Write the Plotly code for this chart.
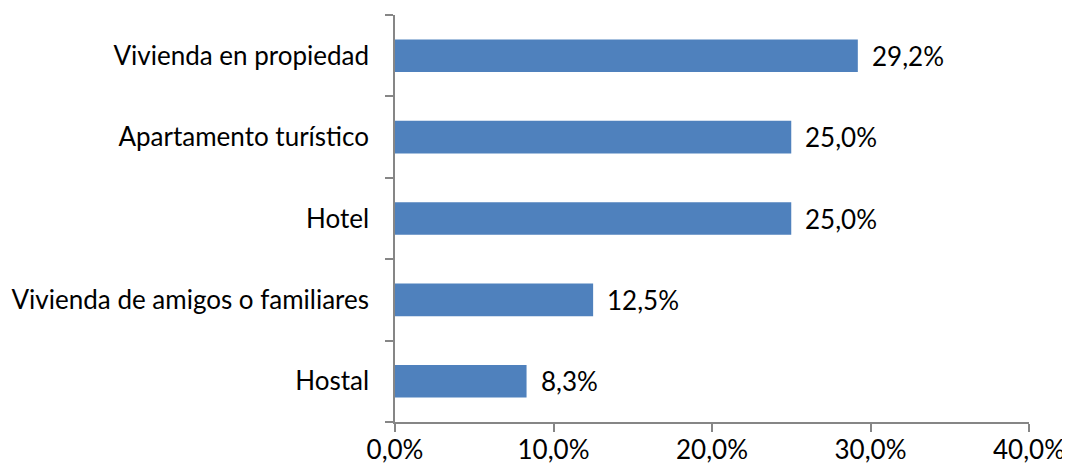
import plotly.graph_objects as go

categories = ["Vivienda en propiedad", "Apartamento turístico", "Hotel",
              "Vivienda de amigos o familiares", "Hostal"]
values = [29.2, 25.0, 25.0, 12.5, 8.3]
x_ticks = [0, 10, 20, 30, 40]
x_tick_labels = ["0,0%", "10,0%", "20,0%", "30,0%", "40,0%"]

FONT = "Lato, Carlito, Calibri, sans-serif"
FS = 26

fig = go.Figure()
fig.add_trace(go.Bar(
    y=categories, x=values, orientation="h",
    marker=dict(color="#4F81BD", line=dict(width=0)),
    hoverinfo="skip",
))

for c, v in zip(categories, values):
    fig.add_annotation(x=v, y=c, text=f"{v:.1f}%".replace(".", ","),
                       showarrow=False, xanchor="left", xshift=12,
                       font=dict(family=FONT, size=FS, color="#000000"))

fig.update_layout(
    width=1070, height=469,
    margin=dict(l=387, r=49, t=7, b=55),
    paper_bgcolor="white", plot_bgcolor="white",
    bargap=0.6,
    showlegend=False,
    font=dict(family=FONT, size=FS, color="#000000"),
)
fig.update_xaxes(
    range=[0, 40], tickvals=x_ticks, ticktext=x_tick_labels,
    showgrid=False, zeroline=False, automargin=False,
    showline=True, linecolor="#868686", linewidth=1.5,
    ticks="outside", ticklen=8, tickcolor="#868686", tickwidth=1.5,
    ticklabelstandoff=-4,
    tickfont=dict(family=FONT, size=FS, color="#000000"),
)
fig.update_yaxes(
    categoryorder="array", categoryarray=categories[::-1],
    showgrid=False, zeroline=False, automargin=False,
    showline=True, linecolor="#868686", linewidth=1.5,
    ticks="outside", ticklen=8, tickcolor="#868686", tickwidth=1.5,
    tickson="boundaries", ticklabelstandoff=19,
    tickfont=dict(family=FONT, size=FS, color="#000000"),
)

fig.write_html("out.html")
